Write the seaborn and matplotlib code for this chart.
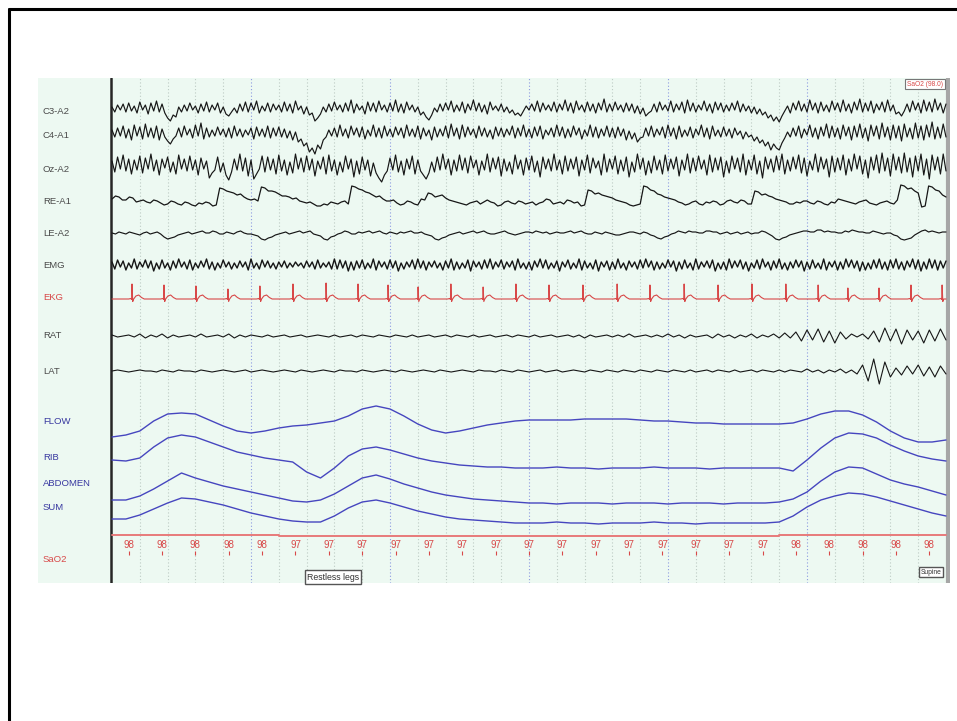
# Polysomnography epoch (30 s) redrawn with seaborn / matplotlib
# EEG, EOG, EMG, EKG, leg EMG, respiratory channels and SaO2 readout

import numpy as np
import matplotlib.pyplot as plt
from matplotlib.lines import Line2D
import seaborn as sns

# =====================================================
# Data (amplitudes in screen pixels, positive = up)
# =====================================================
channels = ["C3-A2", "C4-A1", "Oz-A2", "RE-A1", "LE-A2", "EMG", "EKG",
            "RAT", "LAT", "FLOW", "RIB", "ABDOMEN", "SUM", "SaO2"]

# EEG / EMG, one reading every 0.1 s
c3_a2 = [2, -3, 4, -1, 5, -3, 6, -2, 3, -4, 7, -1, 4, -5, 6, -2, 8, -3, 5, -4,
         -9, -12, -6, -8, 2, -3, 4, -2, 6, -1, 3, -4, 5, -2, 7, -3, 4, -1, 6, -4,
         2, -5, -7, -3, 1, -4, 5, -2, 7, -3, 6, -1, 8, -4, 3, -2, 6, -3, 5, -1,
         4, -3, 7, -2, 5, -4, 8, -1, 3, -5, 2, -6, -4, -12, -9, -5, 2, -3, 5, -2,
         7, -1, 4, -3, 6, -2, 9, -4, 5, -1, 3, -5, 7, -2, 6, -3, 8, -1, 4, -3,
         6, -2, 9, -3, 5, -4, 7, -1, 4, -3, 2, -6, -3, -8, -11, -6, 1, -3, 5, -2,
         6, -1, 8, -3, 4, -2, 7, -4, 5, -1, 9, -2, 6, -3, 4, -5, 7, -1, 3, -2,
         5, -3, 2, -4, -1, -6, -4, -7, -2, 3, -1, 5, -2, 8, -3, 6, -1, 4, -2, 7,
         -3, 5, -1, 9, -2, 6, -4, 8, -1, 4, -3, 7, -2, 5, -4, 6, -1, 10, -3, 5,
         -2, 7, -1, 4, -3, 6, -2, 5, -4, 3, -5, 1, -7, -4, -2, 5, -3, 7, -1, 4,
         -2, 8, -3, 5, -1, 7, -4, 9, -2, 6, -3, 4, -1, 8, -2, 5, -4, 7, -1, 6,
         -3, 4, -2, 6, -1, 8, -3, 5, -2, 3, -4, 2, -5, 0, -6, -3, -9, -6, -12, -8,
         -13, -7, -2, 3, -4, 6, -1, 8, -2, 5, -3, 9, -1, 6, -4, 7, -2, 4, -3, 8,
         -1, 6, -3, 9, -2, 5, -4, 7, -1, 10, -3, 6, -2, 8, -4, 5, -1, 7, -3, 9,
         -2, 4, -5, -3, -7, -2, 5, -3, 8, -1, 6, -4, 9, -2, 7, -3, 10, -1, 6, -4,
         5]

c4_a1 = [4, -3, 6, -2, 8, -4, 5, -6, 9, -2, 7, -5, 10, -3, 6, -4, 8, -6, 5, -3,
         -7, -10, -5, -2, 6, -3, 8, -1, 5, -4, 9, -2, 11, -5, 6, -3, 4, -2, 7, -1,
         5, -3, 6, -4, 8, -2, 5, -3, 4, -1, 6, -5, 7, -2, 5, -3, 8, -4, 6, -2,
         7, -3, 5, -4, 3, -6, 2, -8, -5, -12, -9, -18, -14, -20, -11, -15, -6, -3, 4, -2,
         6, -3, 9, -2, 5, -4, 8, -1, 6, -3, 7, -5, 4, -2, 9, -3, 6, -4, 8, -2,
         5, -3, 7, -1, 6, -4, 9, -2, 5, -3, 8, -5, 6, -2, 4, -6, 7, -3, 5, -2,
         8, -4, 10, -2, 6, -5, 9, -3, 7, -1, 5, -4, 8, -2, 6, -3, 4, -5, 7, -2,
         6, -3, 5, -1, 8, -4, 6, -2, 9, -3, 5, -4, 7, -2, 8, -5, 4, -1, 6, -3,
         9, -2, 7, -4, 5, -3, 8, -1, 6, -5, 4, -2, 9, -3, 7, -4, 5, -2, 8, -3,
         6, -4, 7, -2, 5, -6, 3, -5, 1, -8, -4, -3, 6, -2, 8, -3, 5, -1, 7, -4,
         9, -2, 6, -5, 8, -3, 4, -2, 7, -4, 5, -1, 9, -3, 6, -5, 8, -2, 4, -3,
         7, -2, 5, -4, 6, -1, 3, -5, 2, -3, -1, -7, -3, -9, -6, -12, -8, -16, -10, -14,
         -16, -9, -4, 2, -3, 6, -2, 8, -4, 5, -1, 9, -3, 6, -5, 7, -2, 10, -4, 8,
         -3, 6, -5, 9, -2, 7, -6, 8, -3, 10, -4, 6, -7, 9, -2, 8, -5, 11, -3, 7,
         -6, 9, -4, 8, -7, 10, -3, 6, -5, 11, -4, 8, -6, 9, -3, 12, -5, 7, -4, 10,
         -3]

oz_a2 = [5, -6, 9, -3, 11, -5, 7, -8, 6, -4, 10, -7, 8, -3, 12, -5, 6, -9, 7, -2,
         9, -6, 4, -8, 11, -3, 7, -5, 10, -4, 6, -9, 8, -3, 5, -12, -7, -4, 9, -6,
         3, -9, -14, -6, 7, -4, 12, -5, 8, -10, 6, -13, -8, -3, 10, -6, 9, -4, 7, -8,
         11, -5, 6, -9, 4, -7, 12, -3, 8, -6, 10, -4, 7, -10, 5, -3, 9, -8, 11, -5,
         6, -9, 4, -6, 10, -3, 7, -11, 5, -8, 9, -4, 6, -10, 3, -7, -12, -16, -9, -5,
         8, -4, 11, -6, 5, -9, 7, -3, 10, -8, 6, -5, -9, -13, -7, 4, -6, 9, -4, 12,
         -3, 7, -9, 6, -5, 11, -4, 8, -7, 10, -2, 6, -9, 5, -4, 12, -6, 8, -3, 9,
         -10, 7, -5, 4, -8, 11, -3, 6, -9, 8, -4, 10, -6, 5, -11, 9, -3, 7, -5, 12,
         -4, 6, -8, 10, -5, 7, -3, 9, -10, 6, -4, 11, -7, 8, -2, 5, -9, 12, -6, 7,
         -3, 10, -8, 6, -5, 9, -11, 4, -6, 12, -3, 8, -9, 5, -7, 10, -4, 6, -8, 11,
         -5, 7, -3, 9, -10, 6, -4, 12, -7, 8, -5, 10, -3, 6, -9, 11, -6, 8, -4, 9,
         -11, 5, -7, 10, -3, 8, -6, 12, -9, 6, -4, 11, -8, 5, -12, 9, -3, 7, -6, 10,
         -4, 12, -8, 6, -5, 9, -3, 11, -7, 8, -10, 5, -4, 12, -6, 9, -3, 7, -11, 10,
         -6, 8, -4, 11, -9, 7, -5, 12, -3, 10, -8, 6, -12, 9, -4, 11, -7, 13, -5, 8,
         -10, 12, -4, 9, -7, 13, -6, 8, -11, 10, -5, 12, -9, 7, -13, 11, -4, 9, -8, 12,
         -5]

emg = [3, -4, 5, -2, 4, -5, 2, -3, 6, -4, 3, -2, 5, -3, 4, -6, 2, -4, 5, -3,
       2, -5, 4, -3, 6, -2, 3, -4, 5, -5, 2, -3, 4, -2, 6, -4, 3, -5, 2, -3,
       5, -2, 3, -4, 2, -3, 4, -2, 3, -5, 6, -3, 2, -4, 5, -2, 4, -3, 2, -4,
       3, -2, 4, -3, 2, -2, 3, -1, 2, -3, 4, -2, 3, -4, 5, -3, 2, -2, 3, -4,
       6, -4, 5, -3, 4, -6, 3, -5, 4, -3, 5, -4, 2, -3, 6, -5, 4, -2, 3, -4,
       5, -3, 4, -6, 2, -4, 3, -2, 5, -4, 6, -3, 4, -5, 3, -2, 4, -3, 2, -5,
       4, -3, 6, -5, 3, -4, 2, -3, 5, -6, 4, -2, 3, -4, 5, -3, 6, -4, 3, -2,
       5, -4, 3, -2, 4, -5, 6, -3, 2, -4, 3, -5, 4, -2, 6, -3, 5, -4, 2, -3,
       4, -6, 3, -2, 5, -4, 2, -3, 6, -5, 4, -3, 2, -4, 5, -6, 3, -2, 4, -5,
       3, -4, 6, -3, 2, -5, 4, -2, 3, -4, 5, -3, 6, -2, 4, -5, 3, -4, 2, -3,
       5, -2, 4, -6, 3, -4, 5, -3, 2, -5, 6, -4, 3, -2, 4, -3, 5, -6, 2, -4,
       3, -5, 6, -3, 4, -2, 5, -4, 3, -6, 2, -3, 5, -4, 6, -2, 3, -5, 4, -3,
       6, -4, 2, -5, 3, -3, 5, -2, 4, -6, 3, -4, 5, -3, 2, -4, 6, -5, 3, -2,
       4, -5, 3, -4, 6, -2, 5, -3, 4, -6, 3, -5, 2, -4, 5, -3, 6, -4, 3, -5,
       5, -3, 6, -4, 3, -5, 4, -2, 6, -4, 5, -6, 3, -4, 6, -3, 5, -5, 4, -3,
       4]

# eye channels, one reading every 0.125 s
re_a1 = [4, 7, 6, 3, 3, 6, 5, 1, 2, 3, 1, 0, 3, 2, 0, -2, -1, 2, 1, -1,
         -2, 1, 0, -2, -3, 0, -1, 1, 0, -3, -2, 15, 14, 12, 11, 10, 8, 9, 6, 4,
         3, 4, 2, 16, 15, 12, 12, 11, 9, 7, 7, 6, 4, 5, 2, 1, 0, 1, -1, -3,
         -3, -1, -2, 1, 0, -1, 1, 2, -1, 17, 16, 14, 13, 11, 10, 8, 6, 7, 4, 2,
         2, 3, 0, -2, -1, 2, 1, -1, -2, 4, 3, 10, 9, 6, 7, 8, 5, 3, 2, 1,
         0, -1, -2, 0, 1, 2, -1, 1, 3, 1, 0, -3, -2, 1, 2, 0, -1, 2, 1, -1,
         0, 1, -2, 0, 1, 4, 3, -1, 0, 1, -1, 3, 2, 0, 1, -3, -2, 13, 12, 9,
         10, 8, 7, 6, 5, 3, 2, 1, 0, -2, -3, -2, -1, 17, 16, 13, 12, 9, 8, 6,
         5, 4, 3, 1, 0, -2, -1, 1, 2, -1, -2, 1, 0, 2, 1, -2, -1, 2, 3, 1,
         0, 3, 2, -1, -1, 12, 11, 8, 9, 7, 6, 4, 3, 2, 1, -1, -1, 1, 0, 2,
         2, 0, -1, 2, 1, -1, -2, 1, 0, 4, 3, 2, 1, 0, -1, 1, 2, 3, 0, -1,
         -2, 0, 1, 2, 0, -1, 3, 18, 17, 14, 15, 12, 10, -4, -3, 17, 16, 13, 12, 8,
         6]

le_a2 = [1, 0, 2, 1, 0, 2, 1, 0, -1, 1, 2, 0, 1, 2, 0, -3, -5, -4, -3, -1,
         0, 1, 2, 0, 1, 2, 3, 1, 1, 3, 2, 0, 0, 2, 1, 0, 2, 3, 1, 0,
         0, -1, -2, -5, -6, -4, -3, -1, 0, 1, 2, 0, 1, 2, 3, 1, 2, 3, 0, -1,
         -2, -5, -6, -3, -2, 0, 1, 3, 2, 0, 0, 2, 1, 2, 3, 1, 2, 3, 1, 0,
         2, 1, 0, 2, 1, 2, 3, 1, 1, 2, 0, -1, -2, -5, -6, -4, -3, -1, 0, 1,
         2, 0, 1, 2, 3, 1, 2, 3, 1, 0, 0, 1, 2, 3, 1, 0, -1, 0, 1, 2,
         2, 1, 3, 2, 1, 2, 0, 1, 2, 1, 1, 2, 3, 1, 2, 3, 1, 0, 0, 2,
         1, 0, 2, 1, 0, -1, -1, 0, 1, 2, 2, 1, 0, 2, 1, -1, -2, -4, -5, -3,
         -2, 0, 1, 3, 2, 1, 3, 2, 2, 1, 1, 3, 3, 2, 2, 0, 1, 2, 0, 1,
         2, 0, 1, 2, 0, 1, 1, 3, 2, 0, -2, -5, -6, -4, -3, -1, 0, 1, 2, 3,
         3, 2, 2, 4, 4, 2, 3, 2, 2, 1, 1, 3, 2, 4, 3, 2, 2, 1, 1, 3,
         2, 1, 0, 1, 1, -1, -2, -5, -6, -5, -4, -1, 1, 3, 4, 2, 3, 2, 1, 2,
         2]

# leg EMG, one reading every 0.2 s
rat = [1, -1, 0, 1, -1, 2, -2, 1, -1, 2,
       -2, 1, -1, 0, 1, -1, 2, -1, 0, 1,
       -1, 2, -2, 1, -1, 1, 0, -1, 1, -1,
       0, 1, -1, 0, 1, -1, 0, 1, 0, -1,
       1, -1, 0, 1, -1, 1, 0, -1, 1, 0,
       -1, 1, 0, -1, 1, -1, 0, 1, -1, 0,
       1, -1, 1, 0, -1, 1, -1, 0, 1, -1,
       0, 1, -1, 1, 0, -1, 1, -1, 0, 1,
       -1, 0, 1, -1, 1, -2, 1, -1, 0, 1,
       -1, 1, -1, 2, -1, 0, 1, -1, 1, -1,
       2, -1, 1, -2, 1, -1, 0, 1, -2, 2,
       -1, 1, -2, 1, -1, 2, -2, 1, -1, 2,
       -2, 3, -2, 4, -5, 6, -4, 7, -6, 5,
       -7, 4, -3, 2, -1, 2, -3, 5, -6, 8,
       -5, 7, -8, 6, -4, 5, -7, 6, -5, 7, -4]

lat = [0, 1, 0, -1, 0, 1, 0, 0, -1, 1,
       0, -1, 1, 0, 0, -1, 1, 0, -1, 0,
       1, 0, -1, 0, 1, -1, 0, 1, 0, -1,
       0, 1, 0, -1, 1, 0, -1, 0, 1, 0,
       -1, 1, 0, 0, -1, 1, 0, -1, 0, 1,
       0, -1, 1, 0, -1, 0, 1, 0, -1, 1,
       0, -1, 0, 1, 0, -1, 1, 0, 0, -1,
       1, 0, -1, 1, 0, -1, 0, 1, -1, 0,
       1, -1, 0, 1, 0, -1, 1, 0, -1, 1,
       0, -1, 1, 0, -1, 1, 0, -1, 1, 0,
       -1, 1, 0, -1, 1, -1, 0, 1, -1, 1,
       0, -1, 1, -1, 0, 1, -1, 1, 0, -1,
       1, -1, 1, 0, -1, 2, -1, 1, -2, 1,
       -1, 2, -2, 1, -3, 6, -10, 12, -13, 9,
       -6, 3, -4, 5, -3, 6, -5, 4, -6, 5, -3]

# EKG: R-peak times (s), R heights and one beat shape
ekg_beats = [0.72, 1.87, 3.02, 4.17, 5.32, 6.51, 7.70, 8.85, 9.93, 11.01,
             12.19, 13.35, 14.53, 15.72, 16.94, 18.17, 19.35, 20.58, 21.80,
             23.02, 24.24, 25.40, 26.47, 27.59, 28.74, 29.86]
ekg_r_height = [15, 14, 13, 10, 13, 15, 16, 15, 14, 12, 15, 12, 15,
                14, 14, 15, 14, 15, 14, 15, 15, 14, 11, 11, 14, 14]
ekg_shape_dt = [-0.12, -0.04, -0.015, 0.0, 0.025, 0.06, 0.14, 0.24, 0.34, 0.44]
ekg_shape_val = [0, 0.5, -0.5, None, -2.5, 0, 3, 4, 1.5, 0]

# respiratory channels, one reading every 0.5 s
flow = [-7, -5, -1, 9, 16, 17, 16, 10, 4, -1, -3, -1, 2, 4, 5, 7, 9, 14, 21, 24,
        21, 14, 6, 0, -3, -1, 2, 5, 7, 9, 10, 10, 10, 10, 11, 11, 11, 11, 10, 9,
        9, 8, 7, 7, 6, 6, 6, 6, 6, 7, 11, 16, 19, 19, 15, 8, -1, -8, -12, -12, -10]
rib = [-5, -6, -3, 8, 17, 20, 18, 13, 8, 3, 0, -3, -5, -7, -17, -23, -13, -1, 6, 8,
       5, 1, -3, -6, -8, -10, -11, -12, -12, -13, -13, -13, -12, -13, -13, -14,
       -13, -13, -13, -12, -13, -13, -13, -14, -13, -13, -13, -13, -13, -16, -5,
       7, 17, 22, 21, 17, 10, 4, -1, -4, -6]
abdomen = [-17, -17, -13, -6, 2, 10, 5, 1, -3, -6, -9, -12, -15, -18, -19, -17, -11,
           -3, 5, 8, 4, -1, -5, -9, -12, -14, -16, -17, -18, -19, -20, -20, -21,
           -20, -20, -20, -21, -20, -20, -20, -21, -20, -20, -20, -21, -20, -20,
           -20, -19, -16, -9, 2, 11, 16, 15, 9, 3, -1, -4, -8, -12]
sum_effort = [-12, -12, -8, -2, 4, 9, 8, 5, 2, -2, -6, -9, -12, -14, -15, -15, -9,
              -1, 5, 7, 4, 0, -4, -7, -10, -12, -13, -14, -15, -16, -16, -16, -15,
              -16, -16, -17, -16, -16, -16, -15, -16, -16, -17, -16, -16, -16, -16,
              -16, -15, -9, 0, 7, 11, 14, 13, 10, 6, 2, -2, -6, -9]

# SaO2 readout every 1.2 s
sao2 = [98, 98, 98, 98, 98, 97, 97, 97, 97, 97, 97, 97, 97,
        97, 97, 97, 97, 97, 97, 97, 98, 98, 98, 98, 98]

# =====================================================
# Layout (screen rows of the viewer, 1 s = 27.8 px)
# =====================================================
epoch = 30.0
baseline = {"C3-A2": 109, "C4-A1": 134, "Oz-A2": 166, "RE-A1": 203,
            "LE-A2": 234, "EMG": 265, "EKG": 299, "RAT": 336, "LAT": 371,
            "FLOW": 430, "RIB": 455, "ABDOMEN": 483, "SUM": 507, "SaO2": 535}
label_row = {"C3-A2": 111, "C4-A1": 136, "Oz-A2": 169, "RE-A1": 202,
             "LE-A2": 234, "EMG": 266, "EKG": 298, "RAT": 335, "LAT": 371,
             "FLOW": 422, "RIB": 457, "ABDOMEN": 483, "SUM": 507, "SaO2": 559}

BG = "#edf9f2"
BLACK = "#161616"
RED = "#d84848"
BLUE = "#4646bf"
LABEL_GREY = "#4a4a4a"
LABEL_BLUE = "#3838a0"

sns.set_theme(style="white")
plt.rcParams['font.family'] = ['Liberation Sans', 'DejaVu Sans']

fig = plt.figure(figsize=(9.57, 7.21), dpi=100)
fig.patch.set_facecolor("white")

# slide frame (top and left edges visible)
fig.add_artist(Line2D([9 / 957, 1.0], [1 - 9 / 721, 1 - 9 / 721],
                      transform=fig.transFigure, color="black", lw=2.2))
fig.add_artist(Line2D([9 / 957, 9 / 957], [0.0, 1 - 9 / 721],
                      transform=fig.transFigure, color="black", lw=2.2))

ax = fig.add_axes([38 / 957, 1 - 583 / 721, 912 / 957, 505 / 721])
ax.set_facecolor(BG)
px = 27.8
ax.set_xlim((38 - 112) / px, (950 - 112) / px)
ax.set_ylim(583, 78)
ax.set_xticks([])
ax.set_yticks([])
for s in ax.spines.values():
    s.set_visible(False)

# second grid, blue every 5 s
for sec in range(1, 30):
    col = "#8c9ae0" if sec % 5 == 0 else "#bccbc4"
    ax.axvline(sec, color=col, lw=0.8, ls=(0, (1, 2)), zorder=1)
ax.axvline(-0.04, color="#262626", lw=1.8, zorder=3)
ax.axvline((948.5 - 112) / px, color="#a6a6a6", lw=3, zorder=3)


def trace(name, vals, color=BLACK, lw=0.8):
    t = np.linspace(0, epoch, len(vals))
    y = baseline[name] - np.asarray(vals, dtype=float)
    sns.lineplot(x=t, y=y, ax=ax, color=color, lw=lw, estimator=None,
                 sort=False, legend=False, zorder=4)


# =====================================================
# Signals
# =====================================================
trace("C3-A2", c3_a2, lw=0.85)
trace("C4-A1", c4_a1, lw=0.85)
trace("Oz-A2", oz_a2, lw=0.85)
trace("RE-A1", re_a1, lw=0.9)
trace("LE-A2", le_a2, lw=0.85)
trace("EMG", emg, lw=1.0)
trace("RAT", rat)
trace("LAT", lat)

# EKG built from beat list
ekg_t, ekg_v = [0.0], [0.0]
for bt, h in zip(ekg_beats, ekg_r_height):
    for dt, v in zip(ekg_shape_dt, ekg_shape_val):
        if 0 < bt + dt < epoch:
            ekg_t.append(bt + dt)
            ekg_v.append(h if v is None else v)
ekg_t.append(epoch)
ekg_v.append(0.0)
sns.lineplot(x=ekg_t, y=baseline["EKG"] - np.array(ekg_v), ax=ax, color=RED,
             lw=0.8, estimator=None, sort=False, legend=False, zorder=4)

for name, vals in [("FLOW", flow), ("RIB", rib), ("ABDOMEN", abdomen),
                   ("SUM", sum_effort)]:
    trace(name, vals, color=BLUE, lw=1.0)

# SaO2 line and readout
sao2_t = [(k + 0.5) * epoch / len(sao2) for k in range(len(sao2))]
sao2_line_t = [0.0] + sao2_t + [epoch]
sao2_line_v = [sao2[0]] + sao2 + [sao2[-1]]
sns.lineplot(x=sao2_line_t, y=baseline["SaO2"] - (np.array(sao2_line_v) - 98) * 1.2,
             ax=ax, color="#e77a7a", lw=1.4, estimator=None, sort=False,
             legend=False, drawstyle="steps-mid", zorder=4)
for t, v in zip(sao2_t, sao2):
    ax.text(t, 545, str(v), color=RED, fontsize=7, ha="center", va="center",
            zorder=5)
ax.vlines(sao2_t, 551, 554.5, color=RED, lw=0.8, zorder=5)

# channel labels
for name in channels:
    if name in ("EKG", "SaO2"):
        col = RED
    elif name in ("FLOW", "RIB", "ABDOMEN", "SUM"):
        col = LABEL_BLUE
    else:
        col = LABEL_GREY
    ax.text((43 - 112) / px, label_row[name], name, color=col, fontsize=6.8,
            ha="left", va="center")

# event boxes
ax.text((925 - 112) / px, 84, "SaO2 (98.0)", color=RED, fontsize=4.8,
        ha="center", va="center", zorder=6,
        bbox=dict(boxstyle="square,pad=0.25", fc="white", ec="#777777", lw=0.8))
ax.text((333 - 112) / px, 577, "Restless legs", color="#333333", fontsize=6.3,
        ha="center", va="center", zorder=6,
        bbox=dict(boxstyle="square,pad=0.25", fc="white", ec="#555555", lw=1.0))
ax.text((931 - 112) / px, 572, "Supine", color="#333333", fontsize=4.8,
        ha="center", va="center", zorder=6,
        bbox=dict(boxstyle="square,pad=0.25", fc="white", ec="#555555", lw=1.0))

plt.savefig("out.png", dpi=100)
